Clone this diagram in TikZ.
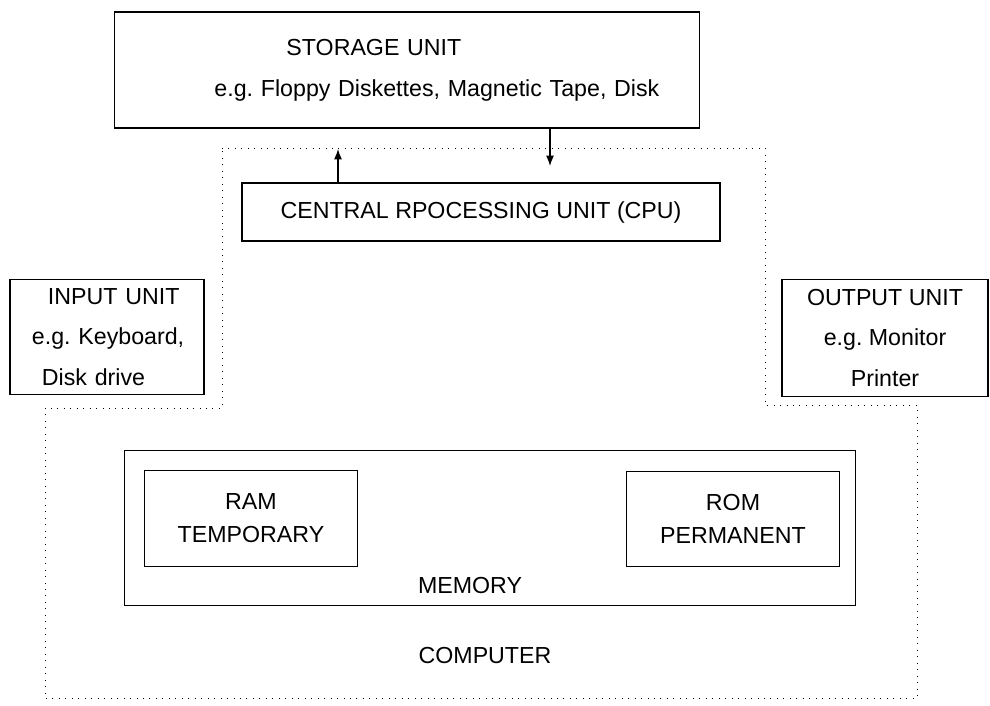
\documentclass[tikz,border=0pt]{standalone}
\usepackage{fontspec}
\setmainfont{Liberation Sans}
\usetikzlibrary{arrows.meta,positioning}
\frenchspacing

\begin{document}
\begin{tikzpicture}[
      x=0.025cm, y=-0.025cm,
      box/.style={
        draw=black,
        line width=0.9pt,
        inner sep=0pt,
        align=center,
        font=\fontsize{16.5pt}{29pt}\selectfont
      },
      membox/.style={box, line width=0.7pt, font=\fontsize{16.5pt}{24pt}\selectfont},
      lbl/.style={inner sep=0pt, font=\fontsize{16.5pt}{19pt}\selectfont},
      flow/.style={-{Latex[length=2.6mm,width=2mm]}, line width=0.8pt},
      outline/.style={line width=0.6pt, dash pattern=on 0.6pt off 4pt}
    ]
      \useasboundingbox (0,0) rectangle (990,705);

      \draw[outline] (222,148) -- (765,148) -- (765,405) -- (917,405)
        -- (917,698) -- (45,698) -- (45,408) -- (222,408) -- cycle;

      \node[box, minimum width=14.625cm, minimum height=2.9cm, text width=14.625cm, align=left] (storage) at (407,70)
        {\hspace*{4.3cm}STORAGE UNIT\\\hspace*{2.5cm}e.g. Floppy Diskettes, Magnetic Tape, Disk};
      \node[box, minimum width=11.95cm, minimum height=1.45cm] (cpu) at (481,212)
        {CENTRAL RPOCESSING UNIT (CPU)};
      \node[box, minimum width=4.85cm, minimum height=2.875cm, text width=4.85cm, align=left] (inunit) at (107,337)
        {\hspace*{0.95cm}INPUT UNIT\\\hspace*{0.55cm}e.g. Keyboard,\\\hspace*{0.8cm}Disk drive};
      \node[box, minimum width=5.15cm, minimum height=2.925cm] (outunit) at (885,338)
        {OUTPUT UNIT\\e.g. Monitor\\Printer};

      \node[membox, minimum width=18.25cm, minimum height=3.875cm] (memory) at (490,528) {};
      \node[membox, minimum width=5.3cm, minimum height=2.4cm] (ram) at (251,518)
        {RAM\\TEMPORARY};
      \node[membox, minimum width=5.325cm, minimum height=2.375cm] (rom) at (733,519)
        {ROM\\PERMANENT};
      \node[lbl] (memlbl) at (470,585) {MEMORY};
      \node[lbl] (complbl) at (485,655) {COMPUTER};

      \coordinate (uptip) at (338,149);
      \coordinate (downtip) at (550,166);
      \draw[flow] (cpu.north -| uptip) -- (uptip);
      \draw[flow] (storage.south -| downtip) -- (downtip);
    \end{tikzpicture}
\end{document}
